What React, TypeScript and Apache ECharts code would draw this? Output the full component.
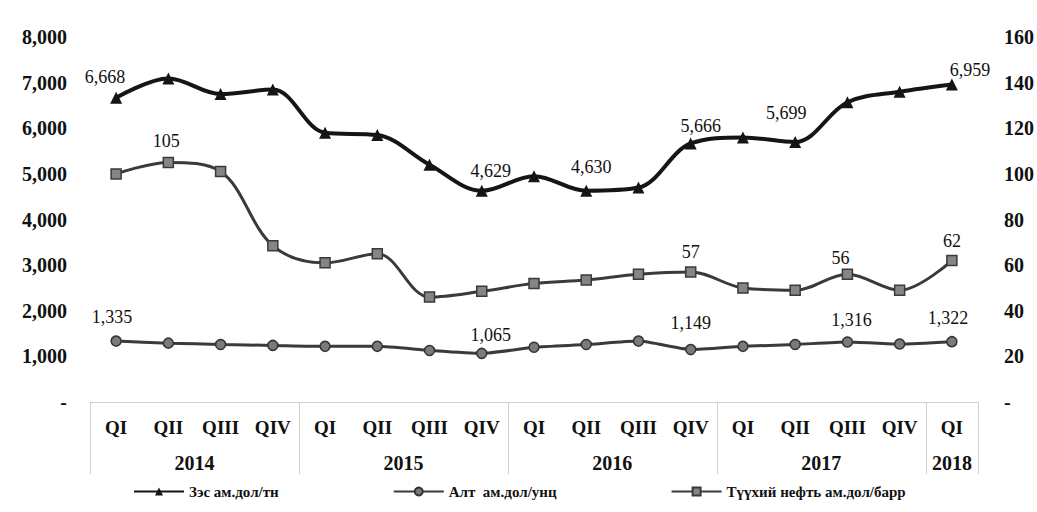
import React, { useEffect, useRef } from "react";
import * as echarts from "echarts";

// ---- data ----
const quarters = ["QI", "QII", "QIII", "QIV", "QI", "QII", "QIII", "QIV", "QI", "QII", "QIII", "QIV", "QI", "QII", "QIII", "QIV", "QI"];
const years = ["2014", "2015", "2016", "2017", "2018"];
const quartersPerYear = [4, 4, 4, 4, 1];

const copperName = "Зэс ам.дол/тн";
const goldName = "Алт  ам.дол/унц";
const oilName = "Түүхий нефть ам.дол/барр";

const copper = [6668, 7090, 6750, 6850, 5900, 5850, 5200, 4629, 4950, 4630, 4700, 5666, 5800, 5699, 6570, 6800, 6959];
const gold = [1335, 1290, 1260, 1240, 1220, 1220, 1130, 1065, 1200, 1260, 1335, 1149, 1220, 1260, 1316, 1270, 1322];
const oil = [100, 105, 101, 68.5, 61, 65, 46, 48.5, 52, 53.5, 56, 57, 50, 49, 56, 49, 62];

const copperLabeled = [0, 7, 9, 11, 13, 16];
const goldLabeled = [0, 7, 11, 14, 16];
const oilLabeled = [1, 11, 14, 16];

const leftTicks = { min: 0, max: 8000, interval: 1000 };
const rightTicks = { min: 0, max: 160, interval: 20 };

// ---- styling (label nudges) ----
const copperOffsets: Record<number, [number, number]> = {
  0: [-11, -1], 7: [9, 0], 9: [5, -4], 11: [10, 3], 13: [-9, -9], 16: [18, 6],
};
const goldOffsets: Record<number, [number, number]> = {
  0: [-4, -4], 7: [9, 1], 11: [0, -7], 14: [4, -2], 16: [-4, -4],
};
const oilOffsets: Record<number, [number, number]> = {
  1: [-2, -2], 11: [0, 0], 14: [-7, 3], 16: [0, 0],
};

const FONT = "'Liberation Serif', 'Times New Roman', serif";

function fmt(v: number) {
  return Math.round(v).toLocaleString("en-US");
}

function buildData(values: number[], labeled: number[], offsets: Record<number, [number, number]>) {
  return values.map((v, i) =>
    labeled.includes(i)
      ? {
          value: v,
          label: {
            show: true,
            position: "top",
            distance: 5,
            offset: offsets[i] || [0, 0],
            formatter: () => fmt(v),
            fontFamily: FONT,
            fontSize: 18,
            color: "#111",
          },
        }
      : { value: v }
  );
}

export default function App() {
  const ref = useRef<HTMLDivElement>(null);

  useEffect(() => {
    if (!ref.current) return;
    const chart = echarts.init(ref.current, undefined, { renderer: "svg" });

    // second-level axis: half-slot positions (boundaryGap false, 2*n+1 points)
    const n = quarters.length;
    const halfSlots: string[] = new Array(2 * n + 1).fill("");
    const boundaries: number[] = [0];
    let acc = 0;
    quartersPerYear.forEach((q, i) => {
      const center = acc * 2 + q; // in half-slot units
      halfSlots[center] = years[i];
      acc += q;
      boundaries.push(acc * 2);
    });
    const yearCenters = halfSlots.map((s, i) => (s ? i : -1)).filter((i) => i >= 0);

    const option: any = {
      animation: false,
      backgroundColor: "#ffffff",
      textStyle: { fontFamily: FONT },
      grid: { left: 90, right: 53, top: 37, bottom: 110, containLabel: false },
      legend: {
        left: 128,
        top: 479,
        itemGap: 114,
        itemWidth: 50,
        itemHeight: 10,
        textStyle: { fontFamily: FONT, fontSize: 15, fontWeight: "bold", color: "#111" },
        data: [copperName, goldName, oilName],
      },
      xAxis: [
        {
          type: "category",
          data: quarters,
          boundaryGap: true,
          position: "bottom",
          axisLine: { show: true, lineStyle: { color: "#cfcfcf", width: 1 } },
          axisTick: { show: false },
          axisLabel: {
            interval: 0,
            margin: 16,
            fontFamily: FONT,
            fontSize: 19,
            fontWeight: "bold",
            color: "#111",
          },
        },
        {
          type: "category",
          data: halfSlots,
          boundaryGap: false,
          position: "bottom",
          axisLine: { show: false },
          axisTick: {
            show: true,
            inside: false,
            length: 72,
            interval: (idx: number) => boundaries.includes(idx),
            lineStyle: { color: "#cfcfcf", width: 1 },
          },
          axisLabel: {
            interval: (idx: number) => yearCenters.includes(idx),
            margin: 51,
            fontFamily: FONT,
            fontSize: 20,
            fontWeight: "bold",
            color: "#111",
          },
        },
      ],
      yAxis: [
        {
          type: "value",
          position: "left",
          min: leftTicks.min,
          max: leftTicks.max,
          interval: leftTicks.interval,
          axisLine: { show: false },
          axisTick: { show: false },
          splitLine: { show: false },
          axisLabel: {
            margin: 23,
            fontFamily: FONT,
            fontSize: 20,
            fontWeight: "bold",
            color: "#111",
            formatter: (v: number) => (v === 0 ? "-" : fmt(v)),
          },
        },
        {
          type: "value",
          position: "right",
          min: rightTicks.min,
          max: rightTicks.max,
          interval: rightTicks.interval,
          axisLine: { show: false },
          axisTick: { show: false },
          splitLine: { show: false },
          axisLabel: {
            margin: 26,
            fontFamily: FONT,
            fontSize: 20,
            fontWeight: "bold",
            color: "#111",
            formatter: (v: number) => (v === 0 ? "-" : String(v)),
          },
        },
      ],
      series: [
        {
          name: copperName,
          type: "line",
          xAxisIndex: 0,
          yAxisIndex: 0,
          smooth: 0.35,
          symbol: "triangle",
          symbolSize: 12,
          lineStyle: { color: "#151515", width: 4 },
          itemStyle: { color: "#151515" },
          data: buildData(copper, copperLabeled, copperOffsets),
          z: 4,
        },
        {
          name: goldName,
          type: "line",
          xAxisIndex: 0,
          yAxisIndex: 0,
          smooth: 0.2,
          symbol: "circle",
          symbolSize: 10,
          lineStyle: { color: "#3a3a3a", width: 3 },
          itemStyle: { color: "#7a7a7a", borderColor: "#333", borderWidth: 1.5 },
          data: buildData(gold, goldLabeled, goldOffsets),
          z: 3,
        },
        {
          name: oilName,
          type: "line",
          xAxisIndex: 0,
          yAxisIndex: 1,
          smooth: 0.35,
          symbol: "rect",
          symbolSize: 10,
          lineStyle: { color: "#3a3a3a", width: 3 },
          itemStyle: { color: "#858585", borderColor: "#3a3a3a", borderWidth: 1.5 },
          data: buildData(oil, oilLabeled, oilOffsets),
          z: 3,
        },
      ],
    };

    chart.setOption(option);
    return () => chart.dispose();
  }, []);

  return (
    <div
      ref={ref}
      style={{ position: "fixed", left: 0, top: 0, width: 1037, height: 512, background: "#fff" }}
    />
  );
}
